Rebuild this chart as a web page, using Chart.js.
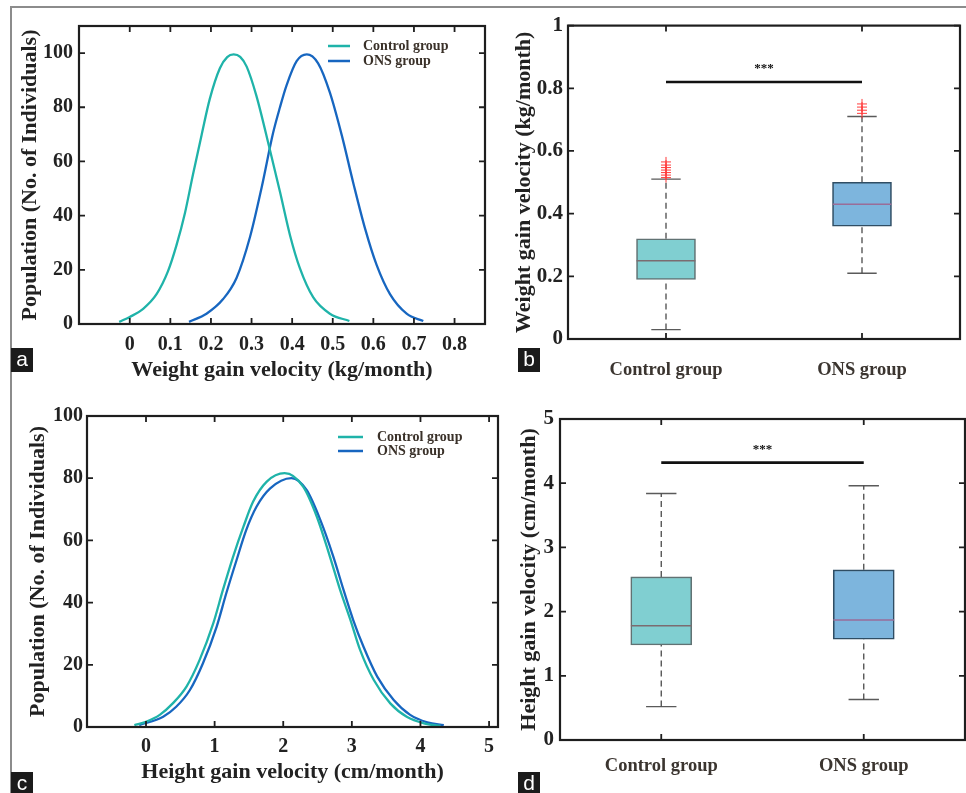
<!DOCTYPE html>
<html>
<head>
<meta charset="utf-8">
<script src="https://cdn.jsdelivr.net/npm/chart.js@4.4.1/dist/chart.umd.min.js"></script>
<style>
  body { margin: 0; background: #fff; width: 966px; height: 793px; overflow: hidden; position: relative; }
  .frame { position: absolute; left: 10px; top: 6px; width: 980px; height: 800px; border-top: 2px solid #8c8c8c; border-left: 2px solid #8c8c8c; }
  canvas { position: absolute; }
  .tag { position: absolute; width: 22px; height: 24px; background: #1b1b1b; color: #fff; font: 21px "Liberation Sans", Arial, sans-serif; line-height: 22px; text-align: center; z-index: 5; }
</style>
</head>
<body>
<div class="frame"></div>
<canvas id="chartA" style="left:0;top:8px" width="492" height="388"></canvas>
<canvas id="chartB" style="left:483px;top:8px" width="483" height="388"></canvas>
<canvas id="chartC" style="left:0;top:400px" width="503" height="393"></canvas>
<canvas id="chartD" style="left:483px;top:400px" width="483" height="393"></canvas>
<div class="tag" style="left:11px;top:348px">a</div>
<div class="tag" style="left:518px;top:348px">b</div>
<div class="tag" style="left:11px;top:772px">c</div>
<div class="tag" style="left:518px;top:772px">d</div>
<script>
  // panel a: weight gain distribution
  const ctrlWeightX = [-0.026, 0, 0.033, 0.066, 0.094, 0.115, 0.136, 0.156, 0.177, 0.197, 0.222, 0.24, 0.256, 0.272, 0.288, 0.312, 0.345, 0.37, 0.395, 0.419, 0.452, 0.493, 0.541];
  const ctrlWeightY = [0.8, 2.6, 5.6, 11, 19.4, 29, 41, 55.4, 69.8, 83, 94.4, 98.5, 99.5, 98.6, 95, 84.2, 64.4, 48.8, 32.6, 20.6, 9.8, 3.8, 1.1];
  const onsWeightX = [0.146, 0.189, 0.23, 0.263, 0.296, 0.325, 0.353, 0.37, 0.386, 0.411, 0.436, 0.464, 0.493, 0.522, 0.551, 0.58, 0.608, 0.641, 0.682, 0.723];
  const onsWeightY = [0.8, 3.8, 9.2, 17, 32, 50.5, 70.5, 80, 88, 97, 99.5, 96.2, 85.4, 69.8, 51.8, 35, 21.8, 11, 3.8, 1.1];
  const weightTicks = [0, 0.1, 0.2, 0.3, 0.4, 0.5, 0.6, 0.7, 0.8];
  const popTicksA = [0, 20, 40, 60, 80, 100];

  // panel c: height gain distribution
  const ctrlHeightX = [-0.17, 0, 0.2, 0.39, 0.59, 0.78, 0.98, 1.12, 1.27, 1.42, 1.56, 1.76, 2.02, 2.29, 2.49, 2.68, 2.83, 2.98, 3.12, 3.32, 3.56, 3.8, 4.05, 4.29];
  const ctrlHeightY = [0.6, 1.7, 3.9, 7.6, 13, 21.5, 33.3, 44, 54.8, 64.4, 72.4, 78.9, 81.6, 77.3, 67.6, 54.8, 44, 34.4, 24.8, 15.1, 7.6, 3.3, 1.2, 0.4];
  const onsHeightX = [-0.1, 0.25, 0.44, 0.64, 0.83, 1.03, 1.17, 1.32, 1.46, 1.61, 1.81, 2.12, 2.34, 2.54, 2.73, 2.88, 3.02, 3.17, 3.37, 3.61, 3.85, 4.1, 4.34];
  const onsHeightY = [0.6, 3.3, 6.5, 11.9, 20.5, 32.3, 43, 53.7, 63.3, 70.8, 76.7, 80, 76.2, 66.6, 54.8, 44, 34.4, 25.8, 16.2, 8.7, 3.9, 1.5, 0.6];
  const heightTicks = [0, 1, 2, 3, 4, 5];
  const popTicksC = [0, 20, 40, 60, 80, 100];

  // panels b and d: box plots
  const groups = ["Control group", "ONS group"];
  const wLow = [0.03, 0.21];
  const wQ1 = [0.19, 0.36];
  const wMed = [0.25, 0.43];
  const wQ3 = [0.32, 0.5];
  const wHigh = [0.51, 0.71];
  const wOutliers = [
    [0.515, 0.523, 0.531, 0.539, 0.547, 0.555, 0.565],
    [0.72, 0.73, 0.74, 0.75],
  ];
  const wSig = 0.82;
  const wTicks = [0, 0.2, 0.4, 0.6, 0.8, 1];

  const hLow = [0.52, 0.63];
  const hQ1 = [1.48, 1.57];
  const hMed = [1.78, 1.87];
  const hQ3 = [2.54, 2.65];
  const hHigh = [3.84, 3.96];
  const hOutliers = [[], []];
  const hSig = 4.32;
  const hTicks = [0, 1, 2, 3, 4, 5];

  const TEAL = "#1fb3a9";
  const BLUE = "#1766c0";
  const SERIF = "'Liberation Serif', 'Times New Roman', serif";
  const boxFill = ["#80cfd1", "#7db5dd"];
  const boxEdge = ["#617273", "#2f4d63"];
  const medColor = ["#7b6c70", "#9a6d98"];

  // MATLAB style frame with inward ticks on all four sides
  const axesBox = {
    id: "axesBox",
    afterDraw(chart) {
      const { ctx, chartArea: a, scales } = chart;
      const len = 6;
      ctx.save();
      ctx.strokeStyle = "#1e1e1e";
      ctx.lineWidth = 1.8;
      ctx.beginPath();
      scales.x.ticks.forEach((t) => {
        const px = scales.x.getPixelForValue(t.value);
        ctx.moveTo(px, a.bottom);
        ctx.lineTo(px, a.bottom - len);
        ctx.moveTo(px, a.top);
        ctx.lineTo(px, a.top + len);
      });
      scales.y.ticks.forEach((t) => {
        const py = scales.y.getPixelForValue(t.value);
        ctx.moveTo(a.left, py);
        ctx.lineTo(a.left + len, py);
        ctx.moveTo(a.right, py);
        ctx.lineTo(a.right - len, py);
      });
      ctx.stroke();
      ctx.lineWidth = 2.2;
      ctx.strokeRect(a.left, a.top, a.right - a.left, a.bottom - a.top);
      ctx.restore();
    },
  };

  const curveLegend = {
    id: "curveLegend",
    afterDraw(chart, args, opts) {
      if (!opts || !opts.dx) return;
      const { ctx, chartArea: a } = chart;
      ctx.save();
      ctx.font = "bold 14px " + SERIF;
      ctx.textBaseline = "middle";
      chart.data.datasets.forEach((ds, i) => {
        const x = a.right - opts.dx;
        const y = a.top + opts.dy + i * opts.gap;
        ctx.strokeStyle = ds.borderColor;
        ctx.lineWidth = 2.5;
        ctx.beginPath();
        ctx.moveTo(x, y);
        ctx.lineTo(x + opts.len, y);
        ctx.stroke();
        ctx.fillStyle = "#3a3129";
        ctx.fillText(ds.label, x + opts.textGap, y);
      });
      ctx.restore();
    },
  };

  const sigStars = {
    id: "sigStars",
    afterDraw(chart, args, opts) {
      if (!opts || opts.value === undefined) return;
      const { ctx, scales } = chart;
      ctx.save();
      ctx.font = "bold 13px " + SERIF;
      ctx.fillStyle = "#111";
      ctx.textAlign = "center";
      ctx.textBaseline = "middle";
      const x = (scales.x.getPixelForValue(1) + scales.x.getPixelForValue(2)) / 2;
      ctx.fillText("***", x, scales.y.getPixelForValue(opts.value) - opts.lift);
      ctx.restore();
    },
  };

  function toPoints(xs, ys) {
    return xs.map((x, i) => ({ x: x, y: ys[i] }));
  }

  function boldSerif(size) {
    return { family: SERIF, size: size, weight: "bold" };
  }

  function makeCurveChart(id, o) {
    return new Chart(document.getElementById(id), {
      type: "line",
      data: {
        datasets: [
          { label: "Control group", data: toPoints(o.ctrlX, o.ctrlY), borderColor: TEAL, borderWidth: 2.3, pointRadius: 0, cubicInterpolationMode: "monotone" },
          { label: "ONS group", data: toPoints(o.onsX, o.onsY), borderColor: BLUE, borderWidth: 2.3, pointRadius: 0, cubicInterpolationMode: "monotone" },
        ],
      },
      options: {
        responsive: false,
        animation: false,
        devicePixelRatio: 1,
        layout: { padding: o.pad },
        plugins: { legend: { display: false }, tooltip: { enabled: false }, curveLegend: o.legend },
        scales: {
          x: {
            type: "linear", min: o.xMin, max: o.xMax,
            grid: { display: false, drawTicks: false }, border: { display: false },
            afterBuildTicks: (s) => { s.ticks = o.xTicks.map((v) => ({ value: v })); },
            afterFit: (s) => { s.height = o.xH; },
            ticks: { font: boldSerif(20), color: "#222", padding: o.xTickPad, maxRotation: 0, callback: (v) => String(v) },
            title: { display: true, text: o.xTitle, font: boldSerif(22), color: "#222", padding: { bottom: o.xTitlePad } },
          },
          y: {
            min: 0, max: o.yMax,
            grid: { display: false, drawTicks: false }, border: { display: false },
            afterBuildTicks: (s) => { s.ticks = o.yTicks.map((v) => ({ value: v })); },
            afterFit: (s) => { s.width = o.yW; },
            ticks: { font: boldSerif(20), color: "#222", padding: o.yTickPad, callback: (v) => String(v) },
            title: { display: true, text: "Population (No. of Individuals)", font: boldSerif(22), color: "#222", padding: { top: o.yTitlePad } },
          },
        },
      },
      plugins: [axesBox, curveLegend],
    });
  }

  function makeBoxChart(id, o) {
    const datasets = [];
    groups.forEach((g, i) => {
      const x = i + 1;
      // dashed whiskers
      datasets.push({
        type: "line", order: 4, spanGaps: false, pointRadius: 0, borderWidth: 1.3,
        borderColor: "#4a4a4a", borderDash: [6, 4],
        data: [{ x: x, y: o.q3[i] }, { x: x, y: o.high[i] }, { x: x, y: null }, { x: x, y: o.low[i] }, { x: x, y: o.q1[i] }],
      });
      // whisker caps
      datasets.push({
        type: "line", order: 4, spanGaps: false, pointRadius: 0, borderWidth: 1.4, borderColor: "#5a5a5a",
        data: [{ x: x - 0.075, y: o.high[i] }, { x: x + 0.075, y: o.high[i] }, { x: x, y: null }, { x: x - 0.075, y: o.low[i] }, { x: x + 0.075, y: o.low[i] }],
      });
      // median
      datasets.push({
        type: "line", order: 0, pointRadius: 0, borderWidth: 1.5, borderColor: medColor[i],
        data: [{ x: x - 0.15, y: o.med[i] }, { x: x + 0.15, y: o.med[i] }],
      });
      // outliers
      datasets.push({
        type: "scatter", order: 0, pointStyle: "cross", pointRadius: 5, borderWidth: 1, borderColor: "#ff3b3b",
        data: o.outliers[i].map((v) => ({ x: x, y: v })),
      });
    });
    datasets.push({
      type: "bar", order: 2, barThickness: o.barW, borderSkipped: false, borderWidth: 1.6,
      backgroundColor: boxFill, borderColor: boxEdge,
      data: groups.map((g, i) => ({ x: i + 1, y: [o.q1[i], o.q3[i]] })),
    });
    datasets.push({
      type: "line", order: 0, pointRadius: 0, borderWidth: 2.6, borderColor: "#111",
      data: [{ x: 1, y: o.sig }, { x: 2, y: o.sig }],
    });

    return new Chart(document.getElementById(id), {
      type: "bar",
      data: { datasets: datasets },
      options: {
        responsive: false,
        animation: false,
        devicePixelRatio: 1,
        layout: { padding: o.pad },
        plugins: { legend: { display: false }, tooltip: { enabled: false }, sigStars: { value: o.sig, lift: o.starLift } },
        scales: {
          x: {
            type: "linear", min: 0.5, max: 2.5, offset: false,
            grid: { display: false, drawTicks: false }, border: { display: false },
            afterBuildTicks: (s) => { s.ticks = [1, 2].map((v) => ({ value: v })); },
            afterFit: (s) => { s.height = o.xH; },
            ticks: { font: boldSerif(18.5), color: "#3b3530", padding: o.xTickPad, maxRotation: 0, callback: (v, i) => groups[i] },
          },
          y: {
            min: 0, max: o.yMax,
            grid: { display: false, drawTicks: false }, border: { display: false },
            afterBuildTicks: (s) => { s.ticks = o.yTicks.map((v) => ({ value: v })); },
            afterFit: (s) => { s.width = o.yW; },
            ticks: { font: boldSerif(21), color: "#222", padding: o.yTickPad, callback: (v) => String(v) },
            title: { display: true, text: o.yTitle, font: boldSerif(22), color: "#222", padding: { top: o.yTitlePad } },
          },
        },
      },
      plugins: [axesBox, sigStars],
    });
  }

  makeCurveChart("chartA", {
    ctrlX: ctrlWeightX, ctrlY: ctrlWeightY, onsX: onsWeightX, onsY: onsWeightY,
    xMin: -0.125, xMax: 0.875, xTicks: weightTicks, yMax: 110, yTicks: popTicksA,
    xTitle: "Weight gain velocity (kg/month)",
    pad: { top: 10, right: 7, left: 0, bottom: 0 }, xH: 72, yW: 79,
    xTickPad: 9, yTickPad: 6, xTitlePad: 12.8, yTitlePad: 16.8,
    legend: { dx: 157, dy: 20, gap: 15, len: 22, textGap: 35 },
  });

  makeBoxChart("chartB", {
    low: wLow, q1: wQ1, med: wMed, q3: wQ3, high: wHigh, outliers: wOutliers, sig: wSig,
    yMax: 1, yTicks: wTicks, yTitle: "Weight gain velocity (kg/month)",
    pad: { top: 17, right: 1, left: 0, bottom: 0 }, xH: 57, yW: 85, barW: 59,
    xTickPad: 20, yTickPad: 5, yTitlePad: 28.5, starLift: 13,
  });

  makeCurveChart("chartC", {
    ctrlX: ctrlHeightX, ctrlY: ctrlHeightY, onsX: onsHeightX, onsY: onsHeightY,
    xMin: -0.86, xMax: 5.13, xTicks: heightTicks, yMax: 100, yTicks: popTicksC,
    xTitle: "Height gain velocity (cm/month)",
    pad: { top: 16, right: 5, left: 0, bottom: 0 }, xH: 66, yW: 87,
    xTickPad: 8, yTickPad: 4, xTitlePad: 7.1, yTitlePad: 25.1,
    legend: { dx: 160, dy: 21, gap: 14, len: 25, textGap: 39 },
  });

  makeBoxChart("chartD", {
    low: hLow, q1: hQ1, med: hMed, q3: hQ3, high: hHigh, outliers: hOutliers, sig: hSig,
    yMax: 5, yTicks: hTicks, yTitle: "Height gain velocity (cm/month)",
    pad: { top: 19, right: 1, left: 0, bottom: 0 }, xH: 53, yW: 77, barW: 61,
    xTickPad: 15, yTickPad: 6, yTitlePad: 33.5, starLift: 13,
  });
</script>
</body>
</html>
